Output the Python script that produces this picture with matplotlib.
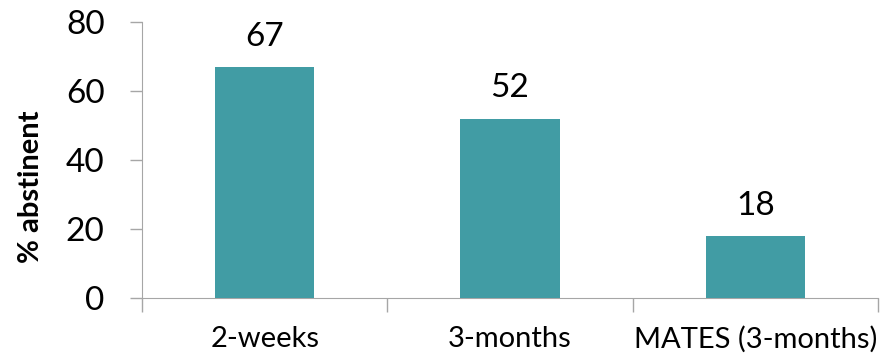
import numpy as np
import matplotlib
matplotlib.use('Agg')
import matplotlib.pyplot as plt

categories = ['2-weeks', '3-months', 'MATES (3-months)']
values = [67, 52, 18]
yticks = [0, 20, 40, 60, 80]

plt.rcParams['font.family'] = ['Lato', 'DejaVu Sans']

fig = plt.figure(figsize=(8.85, 3.55), dpi=100)
ax = fig.add_axes([0.1605, 0.1606, 0.992 - 0.1605, 0.938 - 0.1606])

x = np.arange(len(categories))
bars = ax.bar(x, values, width=0.405, color='#419CA4', zorder=3)

for rect, v in zip(bars, values):
    ax.annotate(str(v), (rect.get_x() + rect.get_width() / 2, v),
                xytext=(0, 11), textcoords='offset points',
                ha='center', va='bottom', fontsize=24)

ax.set_xlim(-0.5, len(categories) - 0.5)
ax.set_ylim(0, 80)
ax.set_yticks(yticks)
ax.set_yticklabels([str(t) for t in yticks], fontsize=24)
ax.set_xticks(x)
ax.set_xticklabels(categories, fontsize=21)
ax.set_xticks(np.arange(len(categories) + 1) - 0.5, minor=True)

grey = '#A6A6A6'
ax.tick_params(axis='x', which='major', length=0, pad=20)
ax.tick_params(axis='x', which='minor', length=10, color=grey, width=1)
ax.tick_params(axis='y', length=9, color=grey, width=1, pad=18)

for s in ['top', 'right']:
    ax.spines[s].set_visible(False)
ax.spines['left'].set_color(grey)
ax.spines['bottom'].set_color(grey)

# y label sits a bit below the axis centre in the original
fig.text(31 / 885, 1 - 187 / 355, '% abstinent', rotation=90,
         ha='center', va='center', fontsize=21, fontweight='bold')

fig.savefig('out.png', dpi=100)
